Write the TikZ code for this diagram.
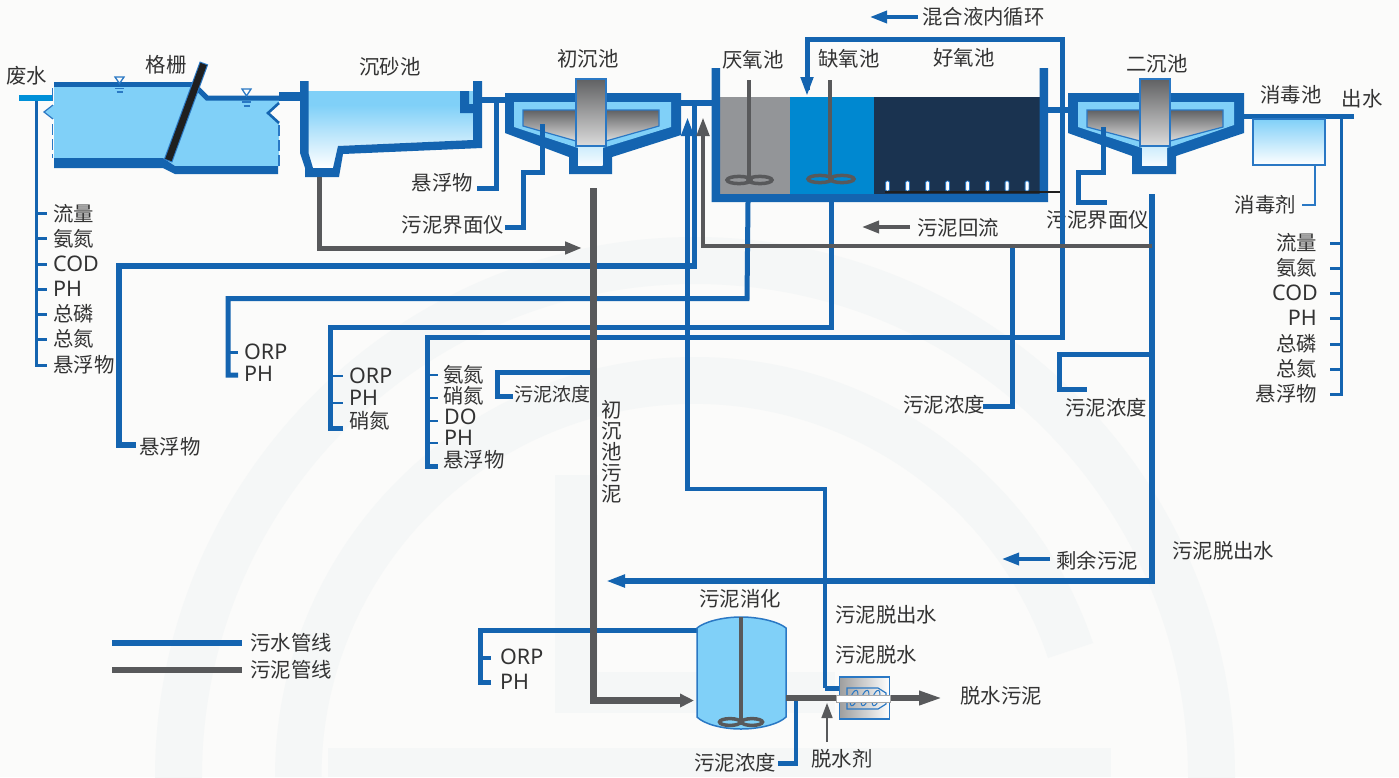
\documentclass[tikz,border=0pt]{standalone}
\usepackage{fontspec}
\setmainfont{Noto Sans}
\newfontfamily\cjk{Noto Sans CJK SC}
\usetikzlibrary{arrows.meta}
\definecolor{bgc}{HTML}{FBFBFA}
\definecolor{wmc}{HTML}{F5F7F7}
\definecolor{bluep}{HTML}{1464B0}
\definecolor{grayp}{HTML}{58595B}
\definecolor{water}{HTML}{80D0F8}
\definecolor{inlet}{HTML}{0090D8}
\definecolor{txt}{HTML}{333333}
\definecolor{edgeb}{HTML}{2A78C4}
\definecolor{anoxic}{HTML}{0088D0}
\definecolor{aerobic}{HTML}{1A3350}
\definecolor{anaer}{HTML}{939598}
\pgfdeclareverticalshading{gritsh}{100bp}{color(0bp)=(white); color(25bp)=(white); color(66bp)=(water); color(100bp)=(water)}
\tikzset{
  cn/.style={font=\cjk\fontsize{20.4}{21}\selectfont,text=txt,inner sep=0pt,text height=17.7pt,text depth=2.3pt},
  ln/.style={font=\fontsize{21.5}{22}\selectfont,text=txt,inner sep=0pt,text height=17.7pt,text depth=2.3pt},
  pipeb/.style={draw=bluep,line width=5pt,line join=miter},
  pipem/.style={draw=bluep,line width=5.2pt,line join=miter},
  tickb/.style={draw=bluep,line width=2.4pt},
  pipeg/.style={draw=grayp,line width=4.6pt,line join=miter},
  wall/.style={fill=bluep,draw=none},
  grayfill/.style={top color=grayp!95!white,bottom color=black!14,draw=edgeb,line width=1.2pt},
  mixer/.style={draw=grayp,line width=3.5pt},
  shaft/.style={draw=grayp,line width=4pt},
  tipb/.style={-{Triangle[length=19pt,width=12pt]}},
  tipg/.style={-{Triangle[length=19pt,width=12pt]}},
  tipsmall/.style={-{Triangle[length=17pt,width=12pt]}},
  bubble/.style={fill=white,draw=edgeb,line width=0.8pt,rounded corners=1.2pt,minimum width=3.8pt,minimum height=10pt,inner sep=0pt},
  level/.style={draw=edgeb,line width=1.3pt},
}
\begin{document}
\begin{tikzpicture}[x=1pt,y=-1pt]
\useasboundingbox (0,0) rectangle (1399,777);
\fill[bgc] (0,0) rectangle (1399,777);
% ---------- watermark
\begin{scope}
\clip (0,0) rectangle (1399,777);
\fill[wmc,even odd rule] (695,777) circle[radius=540] (695,777) circle[radius=493];
\fill[wmc] (325,777) -- (275,777) arc[start angle=180,end angle=18.6,radius=420,y radius=-420] -- (1048,658) arc[start angle=18.6,end angle=180,radius=373,y radius=-373] -- cycle;
\fill[wmc] (328,748) rectangle (1111,777);
\fill[wmc] (555,475) rectangle (598,713);
\fill[wmc] (555,672) rectangle (835,713);
\end{scope}
% ---------- named ends
\coordinate (sensL) at (36,101);
\coordinate (sensR) at (1341,119);
\coordinate (tankA) at (748,202);
\coordinate (tankB) at (831,202);
\coordinate (pipeC) at (1062,110);
\coordinate (retC) at (1152,246);
% ---------- labels
\node[cn] (feishui) at (27,76) {废水};
\node[cn] (geshan) at (166,65) {格栅};
\node[cn] (chensha) at (390,67) {沉砂池};
\node[cn] (chuchen) at (588,59) {初沉池};
\node[cn] (yanyang) at (753,60) {厌氧池};
\node[cn] (queyang) at (849,59) {缺氧池};
\node[cn] (haoyang) at (964,58) {好氧池};
\node[cn] (erchen) at (1157,64) {二沉池};
\node[cn] (xiaodu) at (1291,95) {消毒池};
\node[cn] (chushui) at (1362,99) {出水};
\node[cn,anchor=west] (hunhe) at (922,17) {混合液内循环};
\node[cn,anchor=west] (huiliu) at (917,228) {污泥回流};
\node[cn,anchor=east] (xfA) at (473,183) {悬浮物};
\node[cn,anchor=east] (jmA) at (504,225) {污泥界面仪};
\node[cn,anchor=east] (jmB) at (1149,220) {污泥界面仪};
\node[cn,anchor=east] (xdj) at (1296,205) {消毒剂};
\node[cn,anchor=west] (l1) at (53,214) {流量};
\node[cn,anchor=west] (l2) at (53,239) {氨氮};
\node[ln,anchor=west] (l3) at (53,264) {COD};
\node[ln,anchor=west] (l4) at (53,289) {PH};
\node[cn,anchor=west] (l5) at (53,314) {总磷};
\node[cn,anchor=west] (l6) at (53,339) {总氮};
\node[cn,anchor=west] (l7) at (53,365) {悬浮物};
\node[cn,anchor=east] (r1) at (1317,243) {流量};
\node[cn,anchor=east] (r2) at (1317,268) {氨氮};
\node[ln,anchor=east] (r3) at (1318,293) {COD};
\node[ln,anchor=east] (r4) at (1317,318) {PH};
\node[cn,anchor=east] (r5) at (1317,344) {总磷};
\node[cn,anchor=east] (r6) at (1317,369) {总氮};
\node[cn,anchor=east] (r7) at (1317,394) {悬浮物};
\node[cn,anchor=west] (xfB) at (139,447) {悬浮物};
\node[ln,anchor=west] (a1) at (244,352) {ORP};
\node[ln,anchor=west] (a2) at (244,374) {PH};
\node[ln,anchor=west] (b1) at (349,376) {ORP};
\node[ln,anchor=west] (b2) at (349,398) {PH};
\node[cn,anchor=west] (b3) at (349,421) {硝氮};
\node[cn,anchor=west] (c1) at (443,375) {氨氮};
\node[cn,anchor=west] (c2) at (443,396) {硝氮};
\node[ln,anchor=west] (c3) at (444,417) {DO};
\node[ln,anchor=west] (c4) at (444,438) {PH};
\node[cn,anchor=west] (c5) at (443,460) {悬浮物};
\node[cn,anchor=west,font=\cjk\fontsize{19}{20}\selectfont] (ndA) at (514,394) {污泥浓度};
\node[font=\cjk\fontsize{20.4}{21}\selectfont,text=txt,inner sep=0pt,align=center] (cncw) at (612,452) {初\\沉\\池\\污\\泥};
\node[cn,anchor=east] (ndB) at (985,405) {污泥浓度};
\node[cn,anchor=west] (ndC) at (1065,408) {污泥浓度};
\node[cn,anchor=west] (tsA) at (1172,551) {污泥脱出水};
\node[cn,anchor=west] (sy) at (1056,561) {剩余污泥};
\node[cn] (xh) at (740,599) {污泥消化};
\node[cn,anchor=west] (tsB) at (835,615) {污泥脱出水};
\node[cn,anchor=west] (ts) at (835,655) {污泥脱水};
\node[cn,anchor=west] (tw) at (960,696) {脱水污泥};
\node[cn,anchor=east] (ndD) at (776,763) {污泥浓度};
\node[cn,anchor=west] (tsj) at (811,759) {脱水剂};
\node[ln,anchor=west] (d1) at (500,657) {ORP};
\node[ln,anchor=west] (d2) at (500,682) {PH};
\node[cn,anchor=west] (lgA) at (250,643) {污水管线};
\node[cn,anchor=west] (lgB) at (250,670) {污泥管线};
% ---------- legend
\coordinate (lgA1) at (112,643);\coordinate (lgB1) at (112,670);
\draw[draw=bluep,line width=6pt] (lgA1) -- (242,643);
\draw[draw=grayp,line width=6pt] (lgB1) -- (242,670);
% ---------- sensor lines
\draw[draw=bluep,line width=3pt] (sensL) -- (36,366.5);
\foreach \y in {213,238,264,289,314,339,365} \draw[draw=bluep,line width=3pt] (36,\y) -- (47,\y);
\draw[draw=bluep,line width=3pt] (sensR) -- (1341,395.5);
\foreach \y in {243,268,293,318,344,369,394} \draw[draw=bluep,line width=3pt] (1341,\y) -- (1330,\y);
% ---------- long blue pipes
\coordinate (psA) at (694.5,106);
\coordinate (psB) at (689,136);
\draw[pipem] (psA) -- (694.5,266) -- (119,266) -- (119,445) -- (136,445);
\draw[pipeb] (tankA) -- (747,298.5) -- (228,298.5) -- (228,375) -- (238,375);
\draw[tickb] (228,352.5) -- (238,352.5);
\draw[pipeb] (tankB) -- (831,327.5) -- (330,327.5) -- (330,428) -- (343,428);
\draw[tickb] (330,376) -- (343,376);
\draw[tickb] (330,403) -- (343,403);
\draw[pipeb] (pipeC) -- (1062,337) -- (427,337) -- (427,466) -- (438,466);
\foreach \y in {375,398,421,443} \draw[tickb] (427,\y) -- (438,\y);
\draw[pipeb] (592,372) -- (497,372) -- (497,396) -- (513,396);
\draw[pipem] (1152,194) -- (1152,581) -- (622,581);
\draw[draw=bluep,line width=5pt,tipb] (630,581) -- (606,581);
\draw[pipeb] (1152,354) -- (1059,354) -- (1059,389) -- (1087,389);
\draw[pipeb] (1012,246) -- (1012,406) -- (983,406);
\draw[pipeb] (1062,110) -- (1062,39) -- (807,39) -- (807,90);
\draw[draw=bluep,line width=4.5pt,tipb] (807,70) -- (807,96);
\draw[draw=bluep,line width=4.6pt,line join=miter,tipb] (825,688) -- (825,489) -- (687.5,489) -- (687.5,117);
\draw[pipeb] (825,688) -- (842,688);
% small legends
\draw[draw=bluep,line width=3.5pt,tipsmall] (hunhe.west) ++(-4,0) -- (870,17);
\draw[draw=grayp,line width=3.5pt,tipsmall] (huiliu.west) ++(-7,-1) -- (862,227);
\draw[draw=bluep,line width=3.5pt,tipsmall] (sy.west) ++(-6,-2) -- (1002,559);
% clarifier links
\draw[pipeb] (542,124) -- (542,172) -- (523,172) -- (523,227) -- (505,227);
\draw[pipeb] (1103,127) -- (1103,172) -- (1078,172) -- (1078,202) -- (1107,202);
\draw[pipeb] (496.5,99) -- (496.5,188) -- (477,188);
% ---------- bar screen channel
\fill[water] (54,87) -- (193,87) -- (197,88) -- (207,97) -- (279,97) -- (279,103) -- (268,113) -- (279,123) -- (279,166) -- (175,166) -- (163,158) -- (54,158) -- (54,119) -- (44,112) -- (54,105) -- cycle;
\fill[inlet] (19,95) rectangle (53,101);
\draw[draw=edgeb,line width=1.2pt] (53,105) -- (44,112) -- (53,119);
\draw[draw=edgeb,line width=1.8pt] (52.5,88) -- (52.5,101);
\draw[draw=edgeb,line width=1.6pt,dash pattern=on 11pt off 4pt] (52.5,124) -- (52.5,158);
\draw[draw=edgeb,line width=1.6pt,dash pattern=on 11pt off 4pt] (279,125) -- (279,166);
\fill[wall] (54,82) rectangle (193,87);
\draw[draw=bluep,line width=5pt,line join=miter] (197,88) -- (207,98) -- (279,98);
\draw[draw=bluep,line width=2.6pt] (279,103) -- (268,113) -- (279,123);
\fill[wall] (54,158) -- (163,158) -- (175,166) -- (278,166) -- (278,174) -- (175,174) -- (163,168) -- (54,168) -- cycle;
\fill[wall] (279,92) rectangle (302,101);
\draw[draw=edgeb,line width=9pt] (204,63) -- (168,161);
\draw[draw=black!88,line width=6.8pt] (203.6,64) -- (168.4,160);
% level marks
\draw[level,fill=bgc] (115,77) -- (124,77) -- (119.5,83.5) -- cycle;
\draw[level] (115,88.5) -- (124,88.5);\draw[level] (116.5,92) -- (122.5,92);
\draw[level,fill=bgc] (242,89) -- (251,89) -- (246.5,96) -- cycle;
\draw[level] (242,102) -- (251,102);\draw[level] (243.5,106) -- (249.5,106);
% ---------- grit chamber
\shade[shading=gritsh] (308,91) -- (473,91) -- (473,140) -- (338,146) -- (333,168) -- (313,168) -- (308,153) -- cycle;
\fill[wall] (300,81) -- (308.5,81) -- (308.5,153) -- (313,168) -- (333,168) -- (338,146) -- (473,140) -- (473,81) -- (482,81) -- (482,148) -- (343,154) -- (339,177) -- (305,177) -- (305,168) -- (300,153) -- cycle;
\fill[wall] (460,91) -- (469,91) -- (469,104) -- (473,104) -- (473,113) -- (460,113) -- cycle;
\fill[wall] (482,96.5) rectangle (506,102.5);
\draw[draw=grayp,line width=5pt,line join=miter,tipsmall] (319,177) -- (319,248) -- (582,248);
% ---------- primary clarifier
\fill[wall] (505,93) -- (681,93) -- (681,135) -- (612,157) -- (612,174) -- (569,174) -- (569,157) -- (505,133) -- cycle;
\fill[water] (514,102) -- (671,102) -- (671,127) -- (602.5,148) -- (578,148) -- (514,127) -- cycle;
\shade[top color=water!40!white,bottom color=water!8!white] (578,146) rectangle (602.5,165);
\path[grayfill] (523,110) -- (659,110) -- (659,126) -- (606,141) -- (576,141) -- (523,126) -- cycle;
\path[grayfill] (576,79) rectangle (606,146);
\draw[pipeb] (542,124) -- (542,150);
\fill[wall] (681,100) rectangle (712,106);
% ---------- AAO tank
\fill[anaer] (720,97) rectangle (790,194);
\fill[anoxic] (790,97) rectangle (874,194);
\fill[aerobic] (874,97) rectangle (1040,194);
\fill[wall] (711.5,68) -- (720,68) -- (720,194) -- (1039.5,194) -- (1039.5,68) -- (1048,68) -- (1048,202) -- (711.5,202) -- cycle;
\fill[wall] (1048,107) rectangle (1068,113);
% mixers
\draw[shaft] (748.5,80) -- (748.5,178);
\draw[mixer] (739,180) ellipse[x radius=12,y radius=3.6];
\draw[mixer] (760,180) ellipse[x radius=12,y radius=3.6];
\draw[shaft] (830,80) -- (830,178);
\draw[mixer] (820,179) ellipse[x radius=12,y radius=3.6];
\draw[mixer] (842,179) ellipse[x radius=12,y radius=3.6];
% aeration
\foreach \x/\n in {887.5/1,907.5/2,927.5/3,947.5/4,967.5/5,987.5/6,1007/7,1027/8}
  \node[bubble] (bub\n) at (\x,186) {};
\draw[draw=black!88,line width=2.6pt] (885,192) -- (1060,192);
% gray return and sludge lines
\draw[draw=grayp,line width=4.6pt,line join=miter,tipg] (retC) -- (703,246) -- (703,117);
\draw[draw=grayp,line width=7pt,line join=miter] (593,188) -- (593,700.5) -- (683,700.5);
\draw[draw=grayp,line width=7pt,-{Triangle[length=14pt,width=13pt]}] (670,700.5) -- (694,700.5);
% ---------- secondary clarifier
\fill[wall] (1068,93) -- (1244,93) -- (1244,133) -- (1176,156) -- (1176,174) -- (1132,174) -- (1132,156) -- (1068,133) -- cycle;
\fill[water] (1078,102) -- (1234,102) -- (1234,125) -- (1167,148) -- (1142,148) -- (1078,127) -- cycle;
\shade[top color=water!40!white,bottom color=water!8!white] (1142,146) rectangle (1167,165);
\path[grayfill] (1087,110) -- (1223,110) -- (1223,127) -- (1170,141) -- (1140,141) -- (1087,127) -- cycle;
\path[grayfill] (1140,79) rectangle (1170,146);
\draw[pipeb] (1103,127) -- (1103,150);
% ---------- disinfection
\fill[wall] (1244,114) rectangle (1354,119);
\path[top color=water,bottom color=white,draw=edgeb,line width=1.3pt] (1253,119) rectangle (1325,165);
\draw[draw=edgeb,line width=1.5pt] (1315,165) -- (1315,205) -- (1302,205);
% ---------- digester
\draw[draw=bluep,line width=5pt,line join=miter] (491,682) -- (480,682) -- (480,630) -- (697,630);
\draw[draw=bluep,line width=3.5pt] (480,658) -- (491,658);
\draw[draw=grayp,line width=7pt] (593,625) -- (593,640);
\path[fill=water,draw=edgeb,line width=1.5pt] (697,628) .. controls (704,622) and (722,617) .. (741,617) .. controls (760,617) and (779,622) .. (786,628) -- (786,717) .. controls (779,724) and (760,729) .. (741,729) .. controls (722,729) and (704,724) .. (697,717) -- cycle;
\draw[shaft] (740.5,617) -- (740.5,720);
\draw[mixer] (730,722) ellipse[x radius=10.5,y radius=3.4];
\draw[mixer] (752,722) ellipse[x radius=10.5,y radius=3.4];
\draw[draw=bluep,line width=4.5pt,line join=miter] (796,698) -- (796,763.5) -- (778,763.5);
\draw[draw=grayp,line width=6pt] (786,698) -- (840,698);
\draw[draw=grayp,line width=1.6pt,-{Triangle[length=15pt,width=11pt]}] (827,742) -- (827,703);
% ---------- dewatering machine
\node[draw=edgeb,line width=1.4pt,left color=black!38!white,right color=white,minimum width=50pt,minimum height=42pt,inner sep=0pt] (press) at (864.5,698) {};
\draw[draw=edgeb,line width=1.2pt] (847,688) -- (878,688) -- (886,693) -- (886,704) -- (878,709) -- (847,709) -- cycle;
\foreach \x in {854,865,876}
  \draw[draw=edgeb,line width=1pt] (\x,698) ellipse[x radius=3.2,y radius=8,rotate=-18];
\draw[draw=grayp,line width=6pt,-{Triangle[length=24pt,width=13pt]}] (889,698) -- (943,698);
\path[fill=white,draw=black!35,line width=0.7pt] (836,695) rectangle (890,702);
\end{tikzpicture}
\end{document}
